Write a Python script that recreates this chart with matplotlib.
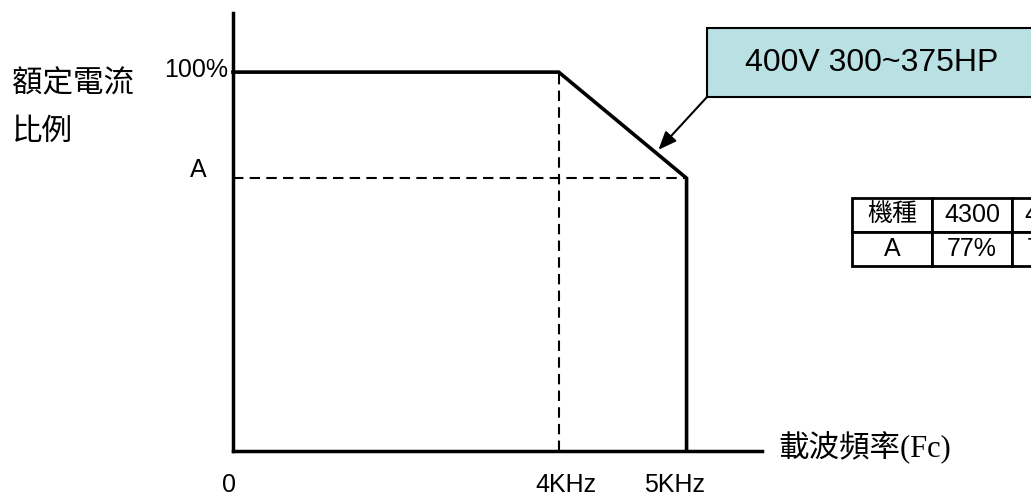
import numpy as np
import matplotlib.pyplot as plt
from matplotlib.patches import Rectangle

plt.rcParams['font.family'] = ['Liberation Sans', 'Noto Sans CJK TC']

# derating curve (schematic)
freq = [0, 4, 5, 5]            # kHz
rated = [100, 100, 72, 0]      # % of rated current
a_level = 72
knee_freq = 4
max_freq = 5

x_tick_vals = [0, 4, 5]
x_tick_labels = ['0', '4KHz', '5KHz']

box_text = '400V 300~375HP'
table_cols = ['機種', '4300', '4375']
table_vals = ['A', '77%', '75%']

W, H = 1031, 500
fig = plt.figure(figsize=(W / 100, H / 100), dpi=100)

# axis drawn schematic: stretch region above 4 kHz
k = 1.57
def fwd(x):
    x = np.asarray(x, dtype=float)
    return np.where(x <= 4, x, 4 + (x - 4) * k)
def inv(y):
    y = np.asarray(y, dtype=float)
    return np.where(y <= 4, y, 4 + (y - 4) / k)

x0, y0 = 233, 451
ax = fig.add_axes([x0 / W, 1 - y0 / H, (762 - x0) / W, (y0 - 13) / H])
ax.set_xscale('function', functions=(fwd, inv))
ax.set_xlim(0, 5.59)
ax.set_ylim(0, 115.6)
for s in ['top', 'right']:
    ax.spines[s].set_visible(False)
for s in ['left', 'bottom']:
    ax.spines[s].set_linewidth(2.5)
ax.set_xticks([])
ax.set_yticks([])
ax.patch.set_alpha(0)

# dashed guides
ax.plot([knee_freq, knee_freq], [0, 100], color='black', lw=1.5,
        linestyle=(0, (5, 3)), clip_on=False)
ax.plot([0, max_freq], [a_level, a_level], color='black', lw=1.5,
        linestyle=(0, (5, 3)), clip_on=False)

# main curve
ax.plot(freq, rated, color='black', lw=2.6, solid_joinstyle='miter',
        clip_on=False)

# tick labels
offs = [-4, 7, -12]
for v, lab, o in zip(x_tick_vals, x_tick_labels, offs):
    ax.annotate(lab, xy=(v, 0), xytext=(o, -34), textcoords='offset pixels',
                ha='center', va='center', fontsize=18)
ax.annotate('100%', xy=(0, 100), xytext=(-5, 2), textcoords='offset pixels',
            ha='right', va='center', fontsize=18)
ax.annotate('A', xy=(0, a_level), xytext=(-35, 8), textcoords='offset pixels',
            ha='center', va='center', fontsize=18)

# axis titles
fig.text(12 / W, 1 - 84 / H, '額定電流', fontsize=22, va='center', ha='left')
fig.text(12 / W, 1 - 132 / H, '比例', fontsize=22, va='center', ha='left')
fig.text(778 / W, 1 - 447 / H, '載波頻率(Fc)', fontsize=22, va='center',
         ha='left', family=['Liberation Serif', 'Noto Sans CJK TC'])

# callout box
bx, by, bw, bh = 707, 28, 340, 69
fig.patches.append(Rectangle((bx / W, 1 - (by + bh) / H), bw / W, bh / H,
                             transform=fig.transFigure, facecolor='#b9e0e3',
                             edgecolor='black', lw=1.5))
fig.text(872 / W, 1 - 63 / H, box_text, fontsize=23, ha='center', va='center')
ax.annotate('', xy=(4.78, 79.5), xytext=(bx / W, 1 - (by + bh) / H),
            textcoords='figure fraction',
            arrowprops=dict(arrowstyle='-|>,head_length=1.1,head_width=0.45',
                            color='black', lw=1.5, shrinkA=0, shrinkB=0))

# table
tax = fig.add_axes([852 / W, 1 - 266 / H, 240 / W, 68 / H])
tax.axis('off')
tbl = tax.table(cellText=[table_cols, table_vals], cellLoc='center',
                bbox=[0, 0, 1, 1])
tbl.auto_set_font_size(False)
for (r, c), cell in tbl.get_celld().items():
    cell.set_linewidth(2)
    cell.get_text().set_fontsize(18)

fig.savefig('out.png', dpi=100)
